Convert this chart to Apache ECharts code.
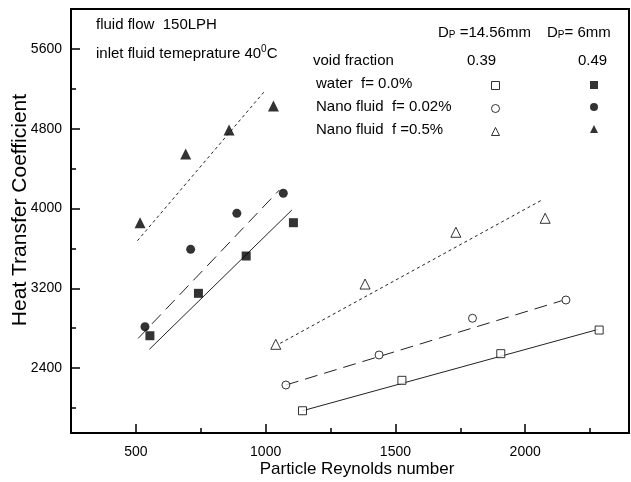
<!DOCTYPE html>
<html>
<head>
<meta charset="utf-8">
<script src="https://cdn.jsdelivr.net/npm/echarts@6/dist/echarts.min.js"></script>
<style>
  html, body { margin: 0; padding: 0; background: #fff; }
  #chart { width: 631px; height: 482px; }
</style>
</head>
<body>
<div id="chart"></div>
<script>
// Dp = 14.56mm, void fraction 0.39 (open symbols)
const reWaterA = [1142, 1525, 1906, 2285]
const htcWaterA = [1973, 2278, 2545, 2782]
const reNano002A = [1078, 1437, 1797, 2157]
const htcNano002A = [2231, 2532, 2900, 3083]
const reNano05A = [1039, 1383, 1733, 2077]
const htcNano05A = [2639, 3243, 3762, 3902]

// Dp = 6mm, void fraction 0.49 (filled symbols)
const reWaterB = [554, 741, 925, 1107]
const htcWaterB = [2725, 3150, 3524, 3858]
const reNano002B = [535, 711, 889, 1068]
const htcNano002B = [2815, 3591, 3952, 4153]
const reNano05B = [516, 692, 859, 1030]
const htcNano05B = [3858, 4546, 4787, 5028]

// fitted trend lines, [start, end]
const fitWaterA = [[1142, 1973], [2282, 2789]]
const fitNano002A = [[1078, 2231], [2141, 3076]]
const fitNano05A = [[1056, 2649], [2064, 4085]]
const fitWaterB = [[552, 2589], [1101, 3985]]
const fitNano002B = [[509, 2699], [1053, 4186]]
const fitNano05B = [[506, 3677], [1000, 5188]]

const xMajor = [500, 1000, 1500, 2000]
const xMinor = [750, 1250, 1750, 2250]
const yMajor = [2400, 3200, 4000, 4800, 5600]
const yMinor = [2000, 2800, 3600, 4400, 5200]

const rowLabels = ['water  f= 0.0%', 'Nano fluid  f= 0.02%', 'Nano fluid  f =0.5%']
const openNames = ['water Dp=14.56', 'nano 0.02 Dp=14.56', 'nano 0.5 Dp=14.56']
const filledNames = ['water Dp=6', 'nano 0.02 Dp=6', 'nano 0.5 Dp=6']

const FONT = '"Liberation Sans", Arial, sans-serif'

function pairs(xs, ys) {
  return xs.map((x, i) => [x, ys[i]])
}

function openScatter(name, xs, ys, symbol, size) {
  return {
    name: name,
    type: 'scatter',
    symbol: symbol,
    symbolSize: size,
    itemStyle: { color: '#fff', borderColor: '#000', borderWidth: 1 },
    z: 5,
    data: pairs(xs, ys)
  }
}

function filledScatter(name, xs, ys, symbol, size) {
  return {
    name: name,
    type: 'scatter',
    symbol: symbol,
    symbolSize: size,
    itemStyle: { color: '#000' },
    z: 5,
    data: pairs(xs, ys)
  }
}

function fitLine(pts, dash) {
  return {
    type: 'line',
    showSymbol: false,
    symbol: 'none',
    silent: true,
    lineStyle: { color: '#222', width: 1, type: dash },
    data: pts
  }
}

function label(text, left, cy) {
  return {
    type: 'text',
    left: left,
    top: cy - 10,
    style: {
      text: text,
      fontSize: 15,
      fontFamily: FONT,
      fill: '#000',
      lineHeight: 20,
      rich: {
        n: { fontSize: 15, lineHeight: 20, verticalAlign: 'bottom' },
        sup: { fontSize: 10, lineHeight: 12, verticalAlign: 'top' },
        sub: { fontSize: 10, lineHeight: 8, verticalAlign: 'bottom' }
      }
    }
  }
}

function keyLegend(names, left) {
  return {
    data: names,
    orient: 'vertical',
    left: left,
    top: 81,
    padding: 0,
    itemWidth: 8,
    itemHeight: 8,
    itemGap: 14,
    selectedMode: false,
    itemStyle: { borderWidth: 1 },
    formatter: () => '',
    textStyle: { fontSize: 1 }
  }
}

const chart = echarts.init(document.getElementById('chart'))

const option = {
  backgroundColor: '#fff',
  animation: false,
  grid: {
    left: 71, right: 2, top: 9, bottom: 49,
    outerBoundsMode: 'none',
    show: true,
    borderColor: '#000',
    borderWidth: 2
  },
  xAxis: [
    {
      type: 'value',
      min: 250,
      max: 2400,
      name: 'Particle Reynolds number',
      nameLocation: 'middle',
      nameGap: 28,
      nameMoveOverlap: false,
      nameTextStyle: { fontSize: 17, fontFamily: FONT, color: '#000', padding: [0, 0, 0, 14] },
      axisLine: { lineStyle: { color: '#000', width: 2 } },
      axisTick: { inside: true, length: 9, lineStyle: { color: '#000', width: 1.5 }, customValues: xMajor },
      axisLabel: {
        fontSize: 14, fontFamily: FONT, color: '#000', margin: 12,
        customValues: xMajor,
        formatter: v => String(v)
      },
      splitLine: { show: false }
    },
    {
      type: 'value',
      min: 250,
      max: 2400,
      position: 'bottom',
      axisLine: { show: false },
      axisTick: { inside: true, length: 5, lineStyle: { color: '#000', width: 1.5 }, customValues: xMinor },
      axisLabel: { show: false },
      splitLine: { show: false }
    }
  ],
  yAxis: [
    {
      type: 'value',
      min: 1750,
      max: 6000,
      name: 'Heat Transfer Coefficient',
      nameLocation: 'middle',
      nameGap: 40,
      nameMoveOverlap: false,
      nameTextStyle: { fontSize: 21, fontFamily: FONT, color: '#000', padding: [0, 0, 0, 22] },
      axisLine: { lineStyle: { color: '#000', width: 2 } },
      axisTick: { inside: true, length: 9, lineStyle: { color: '#000', width: 1.5 }, customValues: yMajor },
      axisLabel: {
        fontSize: 14, fontFamily: FONT, color: '#000', margin: 9,
        customValues: yMajor,
        formatter: v => String(v)
      },
      splitLine: { show: false }
    },
    {
      type: 'value',
      min: 1750,
      max: 6000,
      position: 'left',
      axisLine: { show: false },
      axisTick: { inside: true, length: 5, lineStyle: { color: '#000', width: 1.5 }, customValues: yMinor },
      axisLabel: { show: false },
      splitLine: { show: false }
    }
  ],
  // two icon-only legends form the symbol columns of the key table
  legend: [
    keyLegend(openNames, 491),
    keyLegend(filledNames, 590)
  ],
  graphic: [
    label('fluid flow  150LPH', 96, 25),
    label('inlet fluid temeprature 40{sup|0}C', 96, 54),
    label('{n|D}{sub|P}{n| =14.56mm}', 438, 30),
    label('{n|D}{sub|P}{n|= 6mm}', 547, 30),
    label('void fraction', 313, 61),
    label('0.39', 467, 61),
    label('0.49', 578, 61),
    label(rowLabels[0], 316, 84),
    label(rowLabels[1], 316, 107),
    label(rowLabels[2], 316, 130)
  ],
  series: [
    fitLine(fitWaterA, 'solid'),
    fitLine(fitNano002A, [13, 7]),
    fitLine(fitNano05A, [3, 3]),
    fitLine(fitWaterB, 'solid'),
    fitLine(fitNano002B, [13, 7]),
    fitLine(fitNano05B, [3, 3]),
    openScatter(openNames[0], reWaterA, htcWaterA, 'rect', 8),
    openScatter(openNames[1], reNano002A, htcNano002A, 'circle', 8),
    openScatter(openNames[2], reNano05A, htcNano05A, 'triangle', 10),
    filledScatter(filledNames[0], reWaterB, htcWaterB, 'rect', 9),
    filledScatter(filledNames[1], reNano002B, htcNano002B, 'circle', 9),
    filledScatter(filledNames[2], reNano05B, htcNano05B, 'triangle', 11)
  ]
}

chart.setOption(option)
</script>
</body>
</html>
